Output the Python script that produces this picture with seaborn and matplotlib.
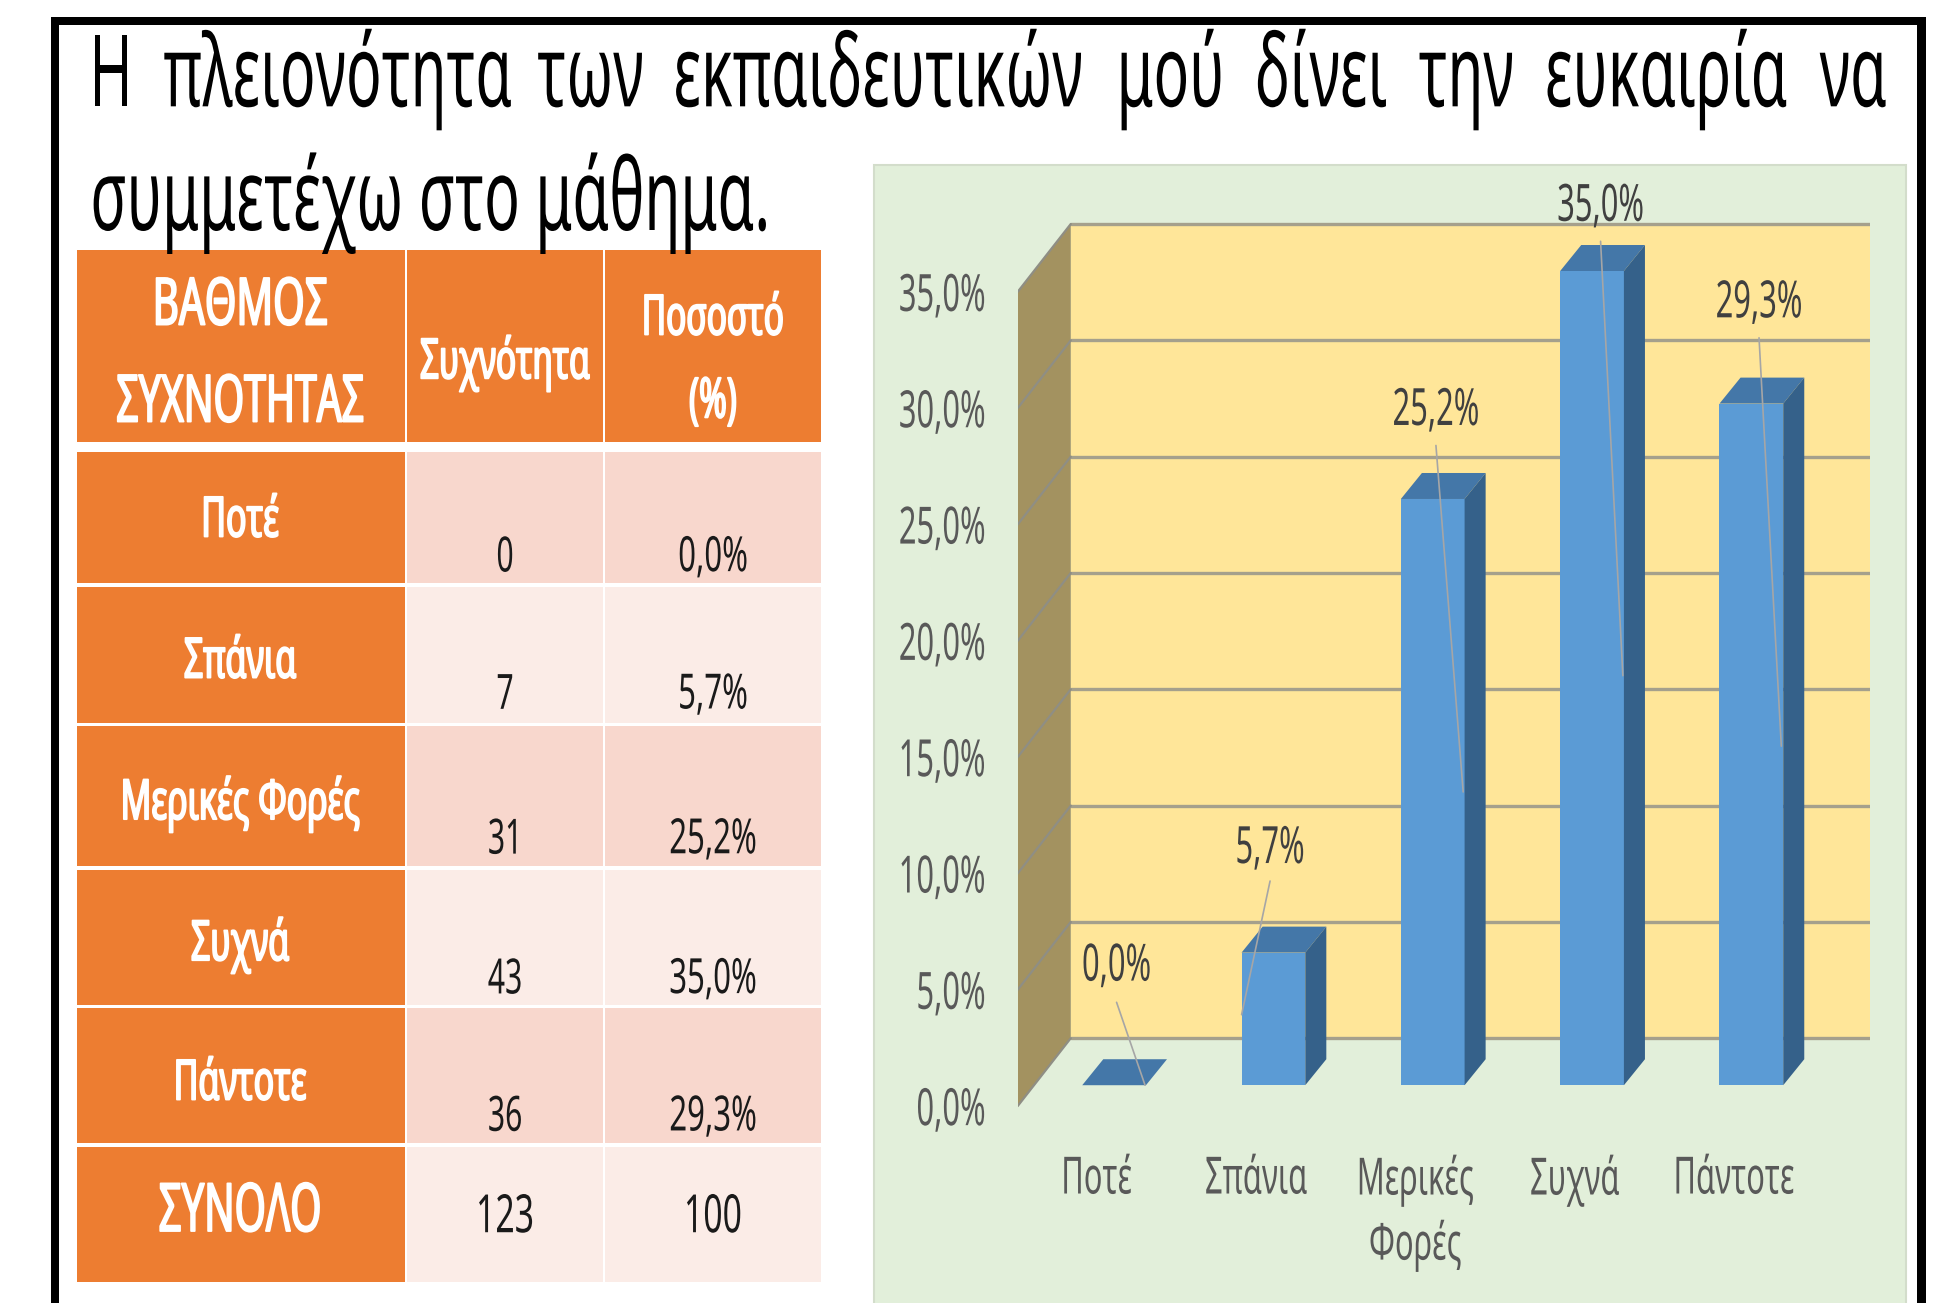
import matplotlib
matplotlib.use("Agg")
import matplotlib.pyplot as plt
import matplotlib.patheffects as pe
from matplotlib.patches import Rectangle, Polygon
from matplotlib.transforms import Affine2D
import seaborn as sns

# dados do grafico
categorias = ["Ποτέ", "Σπάνια", "Μερικές", "Συχνά", "Πάντοτε"]
tick_x = ["Ποτέ", "Σπάνια", "Μερικές\nΦορές", "Συχνά", "Πάντοτε"]
percentual = [0.0, 5.7, 25.2, 35.0, 29.3]
ticks_y = [0, 5, 10, 15, 20, 25, 30, 35]

# dados da tabela
linhas = ["Ποτέ", "Σπάνια", "Μερικές Φορές", "Συχνά", "Πάντοτε"]
frequencia = [0, 7, 31, 43, 36]
total_freq = 123
total_pct = 100

titulo_1 = ["Η", "πλειονότητα", "των", "εκπαιδευτικών", "μού", "δίνει", "την", "ευκαιρία", "να"]
titulo_x = [72, 132, 434, 544, 902, 1014, 1146, 1248, 1470]
titulo_2 = "συμμετέχω στο μάθημα."

LARANJA = "#ED7D31"
ROSA_1 = "#F8D7CD"
ROSA_2 = "#FBECE7"


class Tall(pe.AbstractPathEffect):
    # a referencia e uma imagem esticada na vertical: estica as letras a partir do meio
    def __init__(self, sy, bold=0):
        self.sy = sy
        self.bold = bold

    def draw_path(self, renderer, gc, tpath, affine, rgbFace=None):
        meio = 36  # meia altura de maiuscula, nas unidades do caminho do texto
        aff = Affine2D().translate(0, -meio).scale(1, self.sy).translate(0, meio) + affine
        gc0 = renderer.new_gc()
        gc0.copy_properties(gc)
        if self.bold and rgbFace is not None:
            gc0.set_linewidth(self.bold)
            gc0.set_foreground(rgbFace)
        renderer.draw_path(gc0, tpath, aff, rgbFace)
        gc0.restore()


sns.set_style("white")
plt.rcParams["font.family"] = ["Noto Sans", "DejaVu Sans"]

fig = plt.figure(figsize=(19.41, 13.03), dpi=100)

# fundo em coordenadas da imagem
bg = fig.add_axes([0, 0, 1, 1])
bg.set_xlim(0, 1568)
bg.set_ylim(1053, 0)
bg.axis("off")


def put(x, y, s, size, sx=0.6, color="black", ha="center", va="center", bold=0):
    t = bg.text(x, y, s, fontsize=size * sx, color=color, ha=ha, va=va)
    t.set_path_effects([Tall(1 / sx, bold)])
    return t


# moldura preta
bg.add_patch(Rectangle((41, 14), 7, 1039, color="black", lw=0))
bg.add_patch(Rectangle((41, 14), 1515, 6, color="black", lw=0))
bg.add_patch(Rectangle((1549, 14), 7, 1039, color="black", lw=0))

# titulo
for palavra, x in zip(titulo_1, titulo_x):
    put(x, 74, palavra, 72, sx=0.59, ha="left", va="baseline")
put(73, 174, titulo_2, 72, sx=0.592, ha="left", va="baseline")

# tabela
col_x = [(62, 327), (329, 487), (489, 663)]
lin_y = [(202, 357), (365, 471), (474, 584), (587, 700), (703, 812), (815, 924), (927, 1036)]

for i, (y0, y1) in enumerate(lin_y):
    for j, (x0, x1) in enumerate(col_x):
        if i == 0 or j == 0:
            cor = LARANJA
        else:
            cor = ROSA_1 if i % 2 == 1 else ROSA_2
        bg.add_patch(Rectangle((x0, y0), x1 - x0, y1 - y0, color=cor, lw=0))

put(194, 247, "ΒΑΘΜΟΣ", 47, sx=0.62, color="white", bold=1.3)
put(194, 325, "ΣΥΧΝΟΤΗΤΑΣ", 47, sx=0.6, color="white", bold=1.3)
put(408, 292, "Συχνότητα", 40, sx=0.6, color="white", bold=1.3)
put(576, 257, "Ποσοστό", 40, sx=0.6, color="white", bold=1.3)
put(576, 324, "(%)", 40, sx=0.6, color="white", bold=1.3)

y_rot = [420, 534, 648, 762, 875]
y_num = [450, 561, 678, 791, 902]
for nome, freq, pct, yr, yn in zip(linhas, frequencia, percentual, y_rot, y_num):
    put(194, yr, nome, 40, sx=0.61, color="white", bold=1.3)
    put(408, yn, str(freq), 35, sx=0.62, color="#1a1a1a")
    put(576, yn, f"{pct:.1f}%".replace(".", ","), 35, sx=0.64, color="#1a1a1a")
put(194, 979, "ΣΥΝΟΛΟ", 48, sx=0.6, color="white", bold=1.3)
put(408, 983, str(total_freq), 38, sx=0.64, color="#1a1a1a")
put(576, 983, str(total_pct), 38, sx=0.64, color="#1a1a1a")

# painel do grafico
bg.add_patch(Rectangle((706, 133), 834, 925, facecolor="#E2EFDA", edgecolor="#D3DDCB", lw=1.5))

# eixo do grafico: y=0 na base das barras
AX_L, AX_R, AX_T, AX_B = 822, 1511, 133, 922
ax = fig.add_axes([AX_L / 1568, 1 - AX_B / 1053, (AX_R - AX_L) / 1568, (AX_B - AX_T) / 1053])
ax.patch.set_alpha(0)

PX_CAT = 128.7
PX_PCT = 18.8


def dx(px):
    return (px - 900) / PX_CAT


def dy(py):
    return (877 - py) / PX_PCT


sns.barplot(x=categorias, y=percentual, color="#5B9BD5", saturation=1, width=0.40, ax=ax,
            zorder=2, edgecolor="none", linewidth=0)
ax.set_xlim(dx(AX_L), dx(AX_R))
ax.set_ylim(dy(AX_B), dy(AX_T))

# faces 3D das barras
prof_x = 17 / PX_CAT
prof_y = 21 / PX_PCT
for bar in list(ax.patches):
    x0 = bar.get_x()
    x1 = x0 + bar.get_width()
    h = bar.get_height()
    ax.add_patch(Polygon([(x0, h), (x1, h), (x1 + prof_x, h + prof_y), (x0 + prof_x, h + prof_y)],
                         color="#4477A8", lw=0, zorder=2))
    ax.add_patch(Polygon([(x1, 0), (x1 + prof_x, prof_y), (x1 + prof_x, h + prof_y), (x1, h)],
                         color="#35618A", lw=0, zorder=2))

# paredes e grade
frente = dy(894)
fundo = dy(839)
topo = ticks_y[-1]
x_esq = dx(822)
x_par = dx(865)
x_dir = dx(1511)
ax.add_patch(Polygon([(x_esq, frente), (x_par, fundo), (x_par, topo + fundo), (x_esq, topo + frente)],
                     color="#A39260", lw=0, zorder=0))
ax.add_patch(Rectangle((x_par, fundo), x_dir - x_par, topo, color="#FFE699", lw=0, zorder=0))
for v in ticks_y:
    ax.plot([x_par, x_dir], [v + fundo, v + fundo], color="#A5A08C", lw=2.4, zorder=1)
    ax.plot([x_esq, x_par], [v + frente, v + fundo], color="#8F8E84", lw=1.6, zorder=1)

# rotulos com linha guia
SX = 0.6
rot_xy = [(902, 780), (1026, 685), (1160, 331), (1293, 166), (1421, 244)]
guia = [((902, 810), (925, 877)), ((1026, 712), (1003, 820)), ((1160, 360), (1182, 640)),
        ((1293, 195), (1311, 546)), ((1421, 273), (1439, 603))]
for v, (px, py), (a, b) in zip(percentual, rot_xy, guia):
    t = ax.text(dx(px), dy(py), f"{v:.1f}%".replace(".", ","), fontsize=37 * SX, color="#404040",
                ha="center", va="center", zorder=6)
    t.set_path_effects([Tall(1 / SX)])
    ax.plot([dx(a[0]), dx(b[0])], [dy(a[1]), dy(b[1])], color="#A6A6A6", lw=1.2, zorder=5)

# eixos
ax.set_yticks([v + frente for v in ticks_y])
ax.set_yticklabels([f"{v:.1f}%".replace(".", ",") for v in ticks_y], fontsize=37 * SX, color="#595959")
ax.set_xticks([i - 14 / PX_CAT for i in range(len(tick_x))])
ax.set_xticklabels(tick_x, fontsize=37 * SX, color="#595959", linespacing=2.42)
ax.tick_params(axis="y", length=0, pad=23)
ax.tick_params(axis="x", length=0, pad=16)
for t in ax.get_yticklabels() + ax.get_xticklabels():
    t.set_path_effects([Tall(1 / SX)])
sns.despine(ax=ax, left=True, bottom=True)

fig.savefig("out.png", dpi=100)
